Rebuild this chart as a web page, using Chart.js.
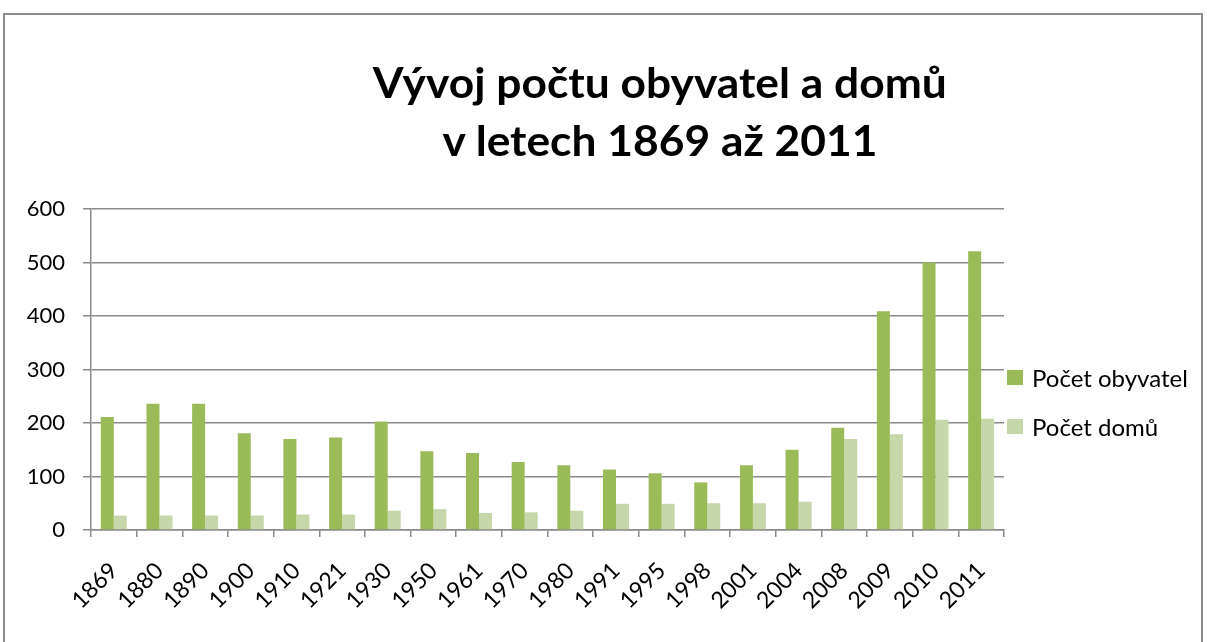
<!DOCTYPE html>
<html>
<head>
<meta charset="utf-8">
<script src="https://cdn.jsdelivr.net/npm/chart.js@4/dist/chart.umd.min.js"></script>
<style>
  html, body { margin: 0; padding: 0; background: #fff; }
  #wrap { position: relative; width: 1207px; height: 642px; overflow: hidden; }
  #frame { position: absolute; left: 3px; top: 13px; width: 1200px; height: 700px; border: 2px solid #8c8c8c; box-sizing: border-box; }
  .tl { position: absolute; left: 0; width: 1320px; text-align: center; white-space: nowrap;
        font-family: Lato, sans-serif; font-weight: bold; font-size: 42px; line-height: 59px; color: #000; }
  .tl span { display: inline-block; transform-origin: 50% 50%; }
  #legend { position: absolute; left: 1007px; top: 353px; font-family: Lato, sans-serif; font-size: 24px; color: #000; }
  .item { display: flex; align-items: center; height: 49px; }
  .sw { width: 16px; height: 15px; margin-right: 9px; }
  canvas { position: absolute; left: 0; top: 0; }
</style>
</head>
<body>
<div id="wrap">
  <div id="frame"></div>
  <canvas id="c" width="1207" height="642"></canvas>
  <div class="tl" id="t1" style="top:53px"><span>Vývoj počtu obyvatel a domů</span></div>
  <div class="tl" id="t2" style="top:111px"><span>v letech 1869 až 2011</span></div>
  <div id="legend"></div>
</div>
<script>
const categories = ['1869','1880','1890','1900','1910','1921','1930','1950','1961','1970','1980','1991','1995','1998','2001','2004','2008','2009','2010','2011'];
const obyvatel = [211, 236, 236, 181, 170, 173, 203, 147, 144, 127, 121, 113, 106, 89, 121, 150, 191, 409, 500, 521];
const domu = [27, 27, 27, 27, 29, 29, 36, 39, 32, 33, 36, 49, 49, 50, 50, 53, 170, 179, 206, 208];
const seriesNames = ['Počet obyvatel', 'Počet domů'];
const seriesColors = ['#9bbb59', '#c6d7aa'];
const yTicks = [0, 100, 200, 300, 400, 500, 600];

const FONT = "Lato, sans-serif";

// title: condense horizontally to the reference width
(function () {
  const s1 = document.querySelector('#t1 span');
  const s2 = document.querySelector('#t2 span');
  const k = 574 / s1.getBoundingClientRect().width;
  s1.style.transform = 'scaleX(' + k + ')';
  s2.style.transform = 'scaleX(' + k + ')';
})();

const legendEl = document.getElementById('legend');
seriesNames.forEach((n, i) => {
  const d = document.createElement('div'); d.className = 'item';
  const s = document.createElement('div'); s.className = 'sw'; s.style.background = seriesColors[i];
  const t = document.createElement('span'); t.textContent = n;
  d.appendChild(s); d.appendChild(t); legendEl.appendChild(d);
});

new Chart(document.getElementById('c'), {
  type: 'bar',
  data: {
    labels: categories,
    datasets: [
      { label: seriesNames[0], data: obyvatel, backgroundColor: seriesColors[0], barPercentage: 1.0, categoryPercentage: 0.57 },
      { label: seriesNames[1], data: domu, backgroundColor: seriesColors[1], barPercentage: 1.0, categoryPercentage: 0.57 }
    ]
  },
  options: {
    responsive: false,
    animation: false,
    layout: { padding: { top: 209, right: 203, left: 0, bottom: 0 } },
    plugins: { legend: { display: false }, title: { display: false }, tooltip: { enabled: false } },
    scales: {
      x: {
        grid: { drawOnChartArea: false, color: '#8a8a8a', lineWidth: 1.5, tickLength: 7, offset: true },
        border: { color: '#8a8a8a', width: 1.5 },
        ticks: { color: '#000', font: { family: FONT, size: 23 }, minRotation: 45, maxRotation: 45, padding: 20 },
        afterFit(s) { s.height = 112; }
      },
      y: {
        min: 0, max: 600,
        afterBuildTicks(s) { s.ticks = yTicks.map(v => ({ value: v })); },
        grid: { color: '#8a8a8a', lineWidth: 1.5, tickLength: 8 },
        border: { color: '#8a8a8a', width: 1.5 },
        ticks: { color: '#000', font: { family: FONT, size: 22 }, padding: 18 },
        afterFit(s) { s.width = 91; }
      }
    }
  }
});
</script>
</body>
</html>
